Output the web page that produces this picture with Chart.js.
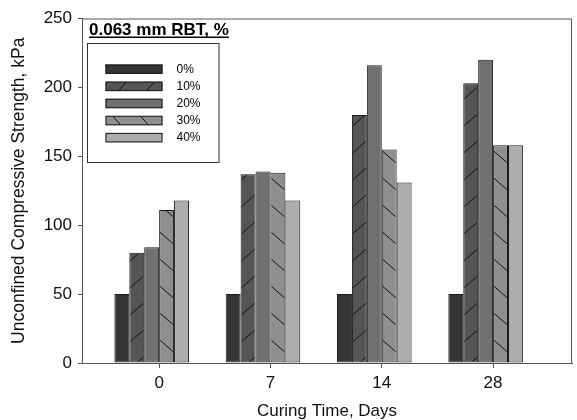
<!DOCTYPE html>
<html>
<head>
<meta charset="utf-8">
<script src="https://cdn.jsdelivr.net/npm/chart.js@4"></script>
<style>
  html, body { margin: 0; padding: 0; background: #fff; }
  #wrap { width: 577px; height: 420px; }
</style>
</head>
<body>
<div id="wrap"><canvas id="ucsChart" width="577" height="420"></canvas></div>
<script>
// curing time groups and RBT content series
const curingDays = ["0", "7", "14", "28"];
const rbtLabels = ["0%", "10%", "20%", "30%", "40%"];
const ucs0 = [50, 50, 50, 50];
const ucs10 = [80, 137, 180, 203];
const ucs20 = [84, 139, 216, 220];
const ucs30 = [111, 138, 155, 158];
const ucs40 = [118, 118, 131, 158];
const yTicks = [0, 50, 100, 150, 200, 250];
const legendTitle = "0.063 mm RBT, %";

const barColors = ["#353535", "#555555", "#707070", "#8f8f8f", "#adadad"];
const hatches = [null, "/", null, "\\", null];
const FONT = "'Liberation Sans', Arial, sans-serif";
const AXIS = "#555";

const series = [ucs0, ucs10, ucs20, ucs30, ucs40];

const datasets = series.map((vals, i) => ({
  label: rbtLabels[i],
  data: vals.map((v, j) => ({ x: j, y: v })),
  backgroundColor: barColors[i],
  borderColor: "#1a1a1a",
  borderWidth: 1,
  borderSkipped: false,
  hatch: hatches[i],
  categoryPercentage: 0.67,
  barPercentage: 1.0
}));

// sparse diagonal lines inside the 10% and 30% bars
const hatchPlugin = {
  id: "hatch",
  afterDatasetsDraw(chart) {
    const ctx = chart.ctx;
    chart.data.datasets.forEach((ds, i) => {
      if (!ds.hatch) return;
      chart.getDatasetMeta(i).data.forEach(bar => {
        const { x, y, base, width } = bar.getProps(["x", "y", "base", "width"], true);
        const left = x - width / 2, right = x + width / 2;
        ctx.save();
        ctx.beginPath();
        ctx.rect(left + 1, y + 1, width - 2, base - y - 2);
        ctx.clip();
        ctx.strokeStyle = "#111";
        ctx.lineWidth = 1;
        ctx.beginPath();
        for (let k = -1; k < 20; k++) {
          let yl, yr;
          if (ds.hatch === "/") { yl = base - 20 - 27 * k; yr = yl - 13; }
          else { yl = base - 23 - 27 * k; yr = yl + 13; }
          if (Math.max(yl, yr) < y) break;
          ctx.moveTo(left, yl);
          ctx.lineTo(right, yr);
        }
        ctx.stroke();
        ctx.restore();
      });
    });
  }
};

// frame (top / right) and the boxed legend inside the plot
const framePlugin = {
  id: "frame",
  afterDraw(chart) {
    const ctx = chart.ctx;
    const a = chart.chartArea;
    ctx.save();
    ctx.strokeStyle = AXIS;
    ctx.lineWidth = 1;
    ctx.beginPath();
    ctx.moveTo(a.left, a.top + 0.5);
    ctx.lineTo(a.right - 0.5, a.top + 0.5);
    ctx.lineTo(a.right - 0.5, a.bottom);
    ctx.stroke();

    // legend title, bold + underline
    ctx.font = "bold 17px " + FONT;
    ctx.fillStyle = "#000";
    ctx.textBaseline = "alphabetic";
    ctx.textAlign = "left";
    const tx = a.left + 7, ty = a.top + 16.5;
    ctx.fillText(legendTitle, tx, ty);
    const tw = ctx.measureText(legendTitle).width;
    ctx.fillRect(tx, ty + 1.5, tw, 1.5);

    // legend box
    ctx.strokeStyle = "#333";
    ctx.strokeRect(a.left + 5.5, a.top + 25, 131.5, 119);

    const sx = a.left + 23.5, sw = 57, sh = 9.5;
    ctx.font = "12px " + FONT;
    ctx.textBaseline = "middle";
    chart.data.datasets.forEach((ds, i) => {
      const sy = a.top + 46 + i * 17.1;
      ctx.fillStyle = ds.backgroundColor;
      ctx.fillRect(sx, sy, sw, sh);
      ctx.strokeStyle = "#1a1a1a";
      ctx.strokeRect(sx + 0.5, sy + 0.5, sw - 1, sh - 1);
      if (ds.hatch) {
        ctx.save();
        ctx.beginPath();
        ctx.rect(sx + 1, sy + 1, sw - 2, sh - 2);
        ctx.clip();
        ctx.strokeStyle = "#111";
        ctx.lineWidth = 1;
        ctx.beginPath();
        [0, 27.7].forEach(off => {
          if (ds.hatch === "/") {
            ctx.moveTo(sx + 12.7 + off, sy + sh);
            ctx.lineTo(sx + 21.4 + off, sy);
          } else {
            ctx.moveTo(sx + 7 + off, sy);
            ctx.lineTo(sx + 15.5 + off, sy + sh);
          }
        });
        ctx.stroke();
        ctx.restore();
      }
      ctx.fillStyle = "#000";
      ctx.fillText(ds.label, a.left + 94.5, sy + sh / 2 + 0.5);
    });
    ctx.restore();
  }
};

new Chart(document.getElementById("ucsChart"), {
  type: "bar",
  data: { datasets },
  options: {
    responsive: false,
    devicePixelRatio: 1,
    animation: false,
    layout: { padding: { top: 18.5, right: 5, left: 0, bottom: 0 } },
    plugins: { legend: { display: false }, tooltip: { enabled: false } },
    scales: {
      x: {
        type: "linear",
        min: -0.626,
        max: 3.776,
        offset: false,
        afterFit: s => { s.height = 57; },
        afterBuildTicks: s => {
          s.ticks = curingDays.map((d, i) => ({ value: i + 0.067 }));
        },
        ticks: {
          color: "#111",
          font: { family: FONT, size: 17 },
          padding: 5,
          maxRotation: 0,
          callback: v => curingDays[Math.round(v)]
        },
        grid: { offset: false, drawOnChartArea: false, drawTicks: true, tickLength: 5, color: AXIS },
        border: { display: true, color: AXIS, width: 1 },
        title: {
          display: true,
          text: "Curing Time, Days",
          color: "#111",
          font: { family: FONT, size: 17 },
          padding: { top: 0, bottom: -2 }
        }
      },
      y: {
        min: 0,
        max: 250,
        afterFit: s => { s.width = 82; },
        afterBuildTicks: s => { s.ticks = yTicks.map(v => ({ value: v })); },
        ticks: {
          color: "#111",
          font: { family: FONT, size: 17 },
          padding: 6
        },
        grid: { drawOnChartArea: false, drawTicks: true, tickLength: 4, color: AXIS },
        border: { display: true, color: AXIS, width: 1 },
        title: {
          display: true,
          text: "Unconfined Compressive Strength, kPa",
          color: "#111",
          font: { family: FONT, size: 17.5 },
          padding: { top: 9, bottom: 0 }
        }
      }
    }
  },
  plugins: [hatchPlugin, framePlugin]
});
</script>
</body>
</html>
